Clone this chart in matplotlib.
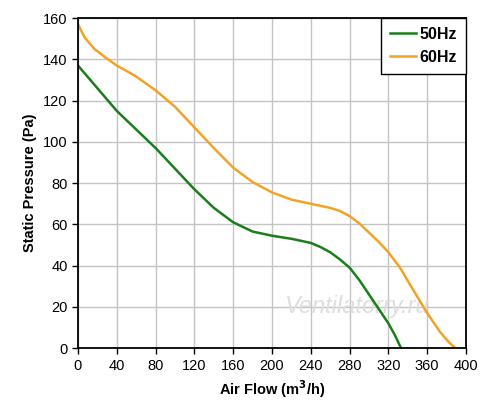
import matplotlib.pyplot as plt

# ── Data ──────────────────────────────────────────────────────────────────────
flow_50 = [0, 10, 20, 30, 40, 60, 80, 100, 120, 140, 160, 180, 200, 220, 240,
           250, 260, 270, 280, 290, 300, 310, 320, 327, 333]
pres_50 = [137, 131.5, 126, 120.5, 115, 106, 97, 87, 77, 68, 61, 56.5, 54.5,
           53, 51, 49, 46.5, 43, 39, 33, 26, 19, 12, 6, 0]

flow_60 = [0, 7, 17, 28, 40, 59, 80, 100, 120, 140, 160, 180, 200, 220, 240,
           260, 270, 280, 290, 300, 310, 320, 332, 342, 360, 373, 382, 389]
pres_60 = [157, 150.5, 145, 141, 137, 132, 125, 117, 107, 97, 87.5, 80.5, 75.5,
           72, 70, 68, 66.5, 64, 60.5, 56, 51.5, 46.5, 39, 31, 17, 8, 3, 0]

x_ticks = list(range(0, 401, 40))
y_ticks = list(range(0, 161, 20))

plt.rcParams['font.family'] = ['Liberation Sans', 'DejaVu Sans']

fig = plt.figure(figsize=(5.0, 4.11), dpi=100)
ax = fig.add_axes([0.156, 0.153, 0.776, 0.803])

ax.plot(flow_50, pres_50, color='#1b7d1b', lw=1.8, label='50Hz',
        solid_joinstyle='round')
ax.plot(flow_60, pres_60, color='#f2a325', lw=1.8, label='60Hz',
        solid_joinstyle='round')

ax.set_xlim(0, 400)
ax.set_ylim(0, 160)
ax.set_xticks(x_ticks)
ax.set_yticks(y_ticks)
ax.tick_params(labelsize=10.5, direction='out', length=4, width=1)
ax.grid(True, color='#c4c4c4', lw=1)
ax.set_axisbelow(True)
for s in ax.spines.values():
    s.set_linewidth(1.3)

ax.set_xlabel('Air Flow (m$^\\mathbf{3}$/h)', fontsize=10.5, fontweight='bold')
ax.set_ylabel('Static Pressure (Pa)', fontsize=10.5, fontweight='bold')

leg = ax.legend(loc='upper right', fancybox=False, edgecolor='black',
                framealpha=1, borderaxespad=0.0, handlelength=1.6,
                handletextpad=0.25, borderpad=0.55, labelspacing=0.5,
                prop={'weight': 'bold', 'size': 11.5})
leg.get_frame().set_linewidth(1)

# faint watermark
ax.text(288, 20, 'Ventilatorry.ru', fontsize=17, style='italic',
        color='#dedede', ha='center', va='center', zorder=1)

fig.savefig('out.png', dpi=100)
